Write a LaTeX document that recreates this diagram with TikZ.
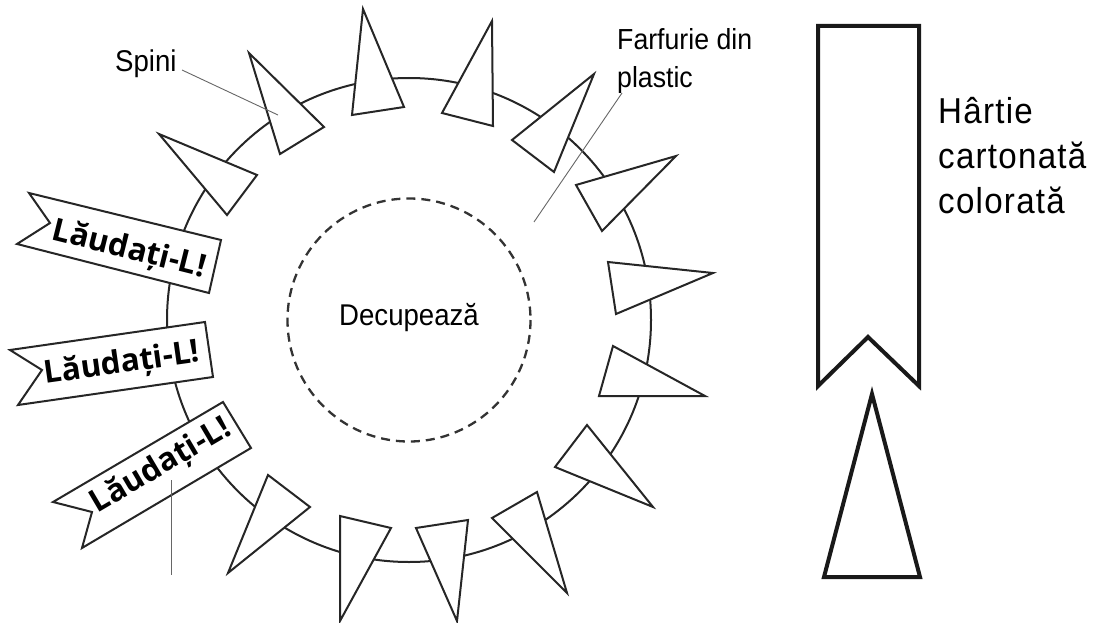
\documentclass[tikz,border=0pt]{standalone}
\usepackage{fontspec}
\newfontfamily\labfont[FakeStretch=0.92]{Liberation Sans}
\newfontfamily\biglabfont[FakeStretch=0.92,LetterSpace=3.5]{Liberation Sans}
\newfontfamily\banfont{Open Sans}
\begin{document}
\begin{tikzpicture}[x=1pt,y=-1pt,
  spike/.style={draw=black!85,line width=2pt,fill=white,line join=miter},
  banner/.style={draw=black!85,line width=2pt,fill=white,line join=miter},
  bantext/.style={inner sep=0pt,font=\banfont\bfseries\fontsize{31.5}{36}\selectfont},
  lab/.style={inner sep=0pt,font=\labfont\fontsize{30}{36}\selectfont},
  biglab/.style={inner sep=0pt,font=\biglabfont\fontsize{36}{44}\selectfont},
  leader/.style={draw=black!60,line width=0.9pt},
  thick ribbon/.style={draw=black!90,line width=4pt,line join=miter,fill=white}]
\useasboundingbox (0,0) rectangle (1093,623);

% plate
\coordinate (c) at (409,320);
\draw[black!85,line width=2pt] (c) circle[radius=242];
\draw[black!80,line width=2.3pt,dash pattern=on 9pt off 6pt] (c) circle[radius=121.5];
\node[lab,anchor=base] (dec) at (409,325) {Decupează};

% spikes
\draw[spike] (249,53) -- (280,154) -- (324,127) -- cycle;
\draw[spike] (363,9) -- (352,115) -- (404,107) -- cycle;
\draw[spike] (492,21) -- (442,113) -- (493,126) -- cycle;
\draw[spike] (594,74) -- (512,140) -- (554,172) -- cycle;
\draw[spike] (676,156) -- (576,185) -- (602,231) -- cycle;
\draw[spike] (713,273) -- (608,262) -- (616,314) -- cycle;
\draw[spike] (705,396) -- (613,346) -- (599,396) -- cycle;
\draw[spike] (653,507) -- (587,425) -- (555,467) -- cycle;
\draw[spike] (567,593) -- (537,492) -- (492,518) -- cycle;
\draw[spike] (457,621) -- (416,528) -- (468,520) -- cycle;
\draw[spike] (340,621) -- (340,516) -- (391,528) -- cycle;
\draw[spike] (228,573) -- (268,475) -- (310,507) -- cycle;
\draw[spike] (159,134) -- (227,215) -- (257,175) -- cycle;

% banners
\draw[banner] (29,193) -- (50,223) -- (17,244) -- (209,293) -- (221,240) -- cycle;
\node[bantext,rotate=-14] (b1) at (129,250) {Lăudați-L!};
\draw[banner] (10,350) -- (42,370) -- (18,405) -- (213,377) -- (205,322) -- cycle;
\node[bantext,rotate=8] (b2) at (122,364) {Lăudați-L!};
\draw[banner] (53,502) -- (92,512) -- (82,548) -- (251,448) -- (223,402) -- cycle;
\node[bantext,rotate=30.5] (b3) at (161,466) {Lăudați-L!};

% labels and leaders
\node[lab,anchor=base west] (spini) at (115,72) {Spini};
\coordinate (spA) at (182,70);
\coordinate (spB) at (278,115);
\draw[leader] (spA) -- (spB);

\node[lab,anchor=base west,font=\labfont\fontsize{29}{36}\selectfont] (farf1) at (617,50) {Farfurie din};
\node[lab,anchor=base west,font=\labfont\fontsize{29}{36}\selectfont] (farf2) at (617,88) {plastic};
\coordinate (fA) at (622,93);
\coordinate (fB) at (534,222);
\draw[leader] (fA) -- (fB);

\coordinate (bA) at (171,480);
\coordinate (bB) at (171,575);
\draw[leader] (bA) -- (bB);

% right side
\draw[thick ribbon] (818,26) -- (919,26) -- (919,386) -- (868,337) -- (818,386) -- cycle;
\draw[thick ribbon] (872,394) -- (920,577) -- (824,577) -- cycle;
\node[biglab,anchor=base west] (h1) at (938,124) {Hârtie};
\node[biglab,anchor=base west] (h2) at (938,168) {cartonată};
\node[biglab,anchor=base west] (h3) at (938,213) {colorată};
\end{tikzpicture}
\end{document}
